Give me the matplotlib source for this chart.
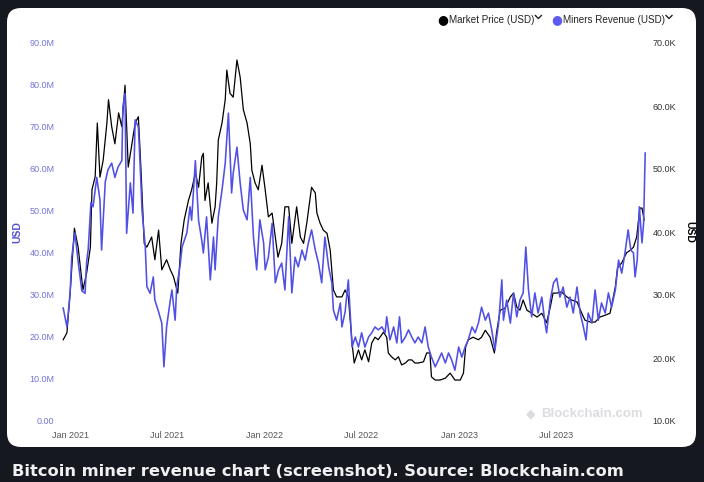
import numpy as np
import matplotlib
matplotlib.use('Agg')
from matplotlib import pyplot as plt
from matplotlib.patches import FancyBboxPatch
from matplotlib.lines import Line2D
from matplotlib.transforms import IdentityTransform

# days counted from 2021-01-01
price_days = [-13, -6, 0, 8, 15, 24, 31, 38, 41, 47, 51, 56, 62, 69, 72, 78, 84, 91, 97,
              103, 109, 116, 122, 128, 133, 139, 144, 153, 159, 166, 172, 181, 188, 194,
              202, 208, 214, 222, 228, 235, 241, 247, 250, 253, 259, 266, 272, 275, 278,
              285, 291, 294, 300, 306, 313, 319, 325, 332, 338, 341, 347, 353, 360, 366,
              372, 379, 385, 390, 397, 403, 410, 416, 425, 432, 438, 444, 453, 460, 463,
              469, 475, 482, 488, 494, 500, 510, 516, 522, 529, 533, 541, 547, 553, 560,
              566, 572, 578, 588, 594, 597, 603, 610, 616, 622, 629, 635, 641, 647, 653,
              663, 669, 675, 678, 685, 694, 704, 713, 722, 732, 738, 742, 747, 756, 766,
              772, 779, 788, 796, 800, 807, 816, 826, 832, 838, 844, 850, 857, 866, 876,
              885, 894, 901, 906, 913, 922, 932, 941, 951, 960, 966, 976, 985, 994, 1004,
              1013, 1023, 1027, 1035, 1044, 1051, 1057, 1063, 1069, 1073, 1077]
price_k = [22.9, 24.0, 30.3, 40.6, 37.6, 30.8, 33.5, 37.6, 46.7, 48.8, 57.3, 48.7, 51.4,
           57.3, 61.0, 56.7, 54.0, 58.9, 56.7, 63.3, 50.3, 54.0, 57.3, 58.3, 49.8, 38.2,
           37.6, 39.2, 35.6, 40.3, 34.0, 35.6, 34.0, 32.9, 30.3, 38.2, 41.9, 45.0, 46.7,
           49.4, 47.1, 51.9, 52.5, 45.0, 47.8, 41.4, 44.0, 47.8, 54.6, 57.3, 61.0, 65.7,
           62.0, 61.4, 67.3, 64.6, 59.4, 57.3, 54.0, 49.8, 47.8, 46.7, 50.6, 46.7, 42.4,
           43.0, 39.2, 36.0, 38.2, 44.0, 44.0, 38.2, 44.0, 39.2, 38.2, 41.4, 47.1, 46.2,
           43.0, 41.4, 40.3, 39.8, 37.1, 30.8, 29.7, 29.7, 30.8, 29.7, 22.4, 19.2, 21.3,
           19.7, 21.3, 19.4, 22.4, 23.3, 22.9, 24.1, 23.3, 20.8, 20.2, 19.7, 20.2, 18.9,
           19.2, 19.7, 19.7, 19.2, 19.2, 19.4, 20.8, 20.8, 17.0, 16.5, 16.5, 16.8, 17.6,
           16.5, 16.5, 17.6, 21.7, 22.9, 23.3, 22.9, 23.3, 24.4, 23.3, 20.8, 24.0, 27.6,
           27.9, 29.7, 30.3, 28.1, 27.6, 29.2, 27.6, 27.1, 26.5, 27.1, 25.6, 28.1, 30.3,
           30.3, 30.5, 29.7, 29.2, 28.9, 27.1, 26.0, 25.7, 25.7, 26.5, 26.8, 27.1, 31.3,
           34.3, 35.1, 36.7, 37.1, 37.6, 39.2, 43.8, 43.8, 41.9]

revenue_days = [-13, -6, 0, 3, 9, 15, 22, 28, 31, 34, 39, 43, 50, 56, 59, 66, 71, 78, 84,
                90, 97, 99, 103, 106, 113, 118, 122, 128, 131, 135, 141, 144, 150, 156,
                159, 165, 172, 176, 181, 188, 191, 197, 200, 206, 210, 219, 225, 228, 235,
                241, 247, 250, 256, 263, 269, 272, 278, 285, 291, 297, 303, 306, 313, 319,
                325, 332, 338, 344, 350, 356, 363, 366, 372, 379, 385, 391, 397, 403, 410,
                416, 422, 428, 435, 441, 447, 453, 460, 466, 472, 478, 485, 491, 494, 500,
                507, 510, 516, 522, 529, 535, 541, 547, 553, 560, 566, 572, 578, 585, 591,
                594, 600, 607, 613, 618, 622, 629, 635, 641, 647, 653, 660, 666, 672, 678,
                685, 691, 697, 704, 710, 716, 722, 729, 735, 741, 747, 754, 760, 766, 772,
                779, 785, 791, 797, 804, 810, 813, 819, 826, 832, 838, 844, 850, 855, 860,
                866, 872, 878, 885, 891, 894, 901, 907, 913, 919, 925, 932, 938, 944, 951,
                957, 963, 968, 972, 979, 985, 991, 997, 1004, 1010, 1016, 1023, 1029, 1035,
                1041, 1047, 1052, 1057, 1060, 1064, 1068, 1073, 1076, 1079]
revenue_m = [26.9, 22.4, 30.5, 39.0, 44.8, 38.0, 31.0, 30.4, 38.0, 41.0, 52.0, 51.0, 58.0,
             52.6, 40.7, 57.0, 59.8, 61.4, 58.0, 60.5, 62.0, 74.8, 78.0, 44.7, 56.7, 49.5,
             71.7, 70.0, 62.0, 50.0, 41.5, 32.0, 30.4, 34.3, 28.8, 26.4, 23.3, 12.9, 22.4,
             28.8, 31.2, 24.0, 32.0, 36.7, 41.4, 44.8, 51.0, 47.8, 62.0, 47.8, 43.0, 40.0,
             48.6, 33.6, 43.8, 36.0, 48.6, 55.0, 61.4, 73.3, 54.3, 59.0, 65.2, 56.7, 50.2,
             47.9, 58.0, 43.8, 36.0, 47.9, 42.4, 36.0, 39.0, 47.1, 32.9, 36.0, 37.6, 31.2,
             48.6, 30.5, 39.0, 36.7, 40.7, 38.3, 42.4, 45.5, 40.7, 37.6, 32.9, 43.8, 36.7,
             32.9, 26.4, 24.0, 28.1, 22.4, 26.0, 33.6, 17.6, 20.0, 17.6, 21.0, 17.6, 20.0,
             21.0, 22.4, 21.7, 22.4, 21.0, 24.8, 19.3, 22.4, 18.6, 24.8, 18.6, 20.0, 21.7,
             20.0, 18.6, 20.0, 18.6, 22.4, 17.6, 15.2, 12.9, 14.5, 16.2, 13.8, 16.2, 14.5,
             12.1, 17.6, 15.2, 17.6, 19.3, 22.4, 21.0, 23.3, 27.1, 24.0, 25.7, 21.7, 16.9,
             23.3, 33.6, 24.0, 28.8, 23.3, 30.5, 24.8, 28.8, 30.5, 41.4, 31.2, 24.8, 30.5,
             25.7, 29.5, 23.3, 21.0, 28.8, 32.9, 34.0, 29.5, 31.9, 27.1, 29.5, 25.7, 31.9,
             25.7, 22.4, 19.3, 25.7, 23.3, 31.2, 24.0, 28.1, 25.7, 30.5, 27.1, 31.2, 38.3,
             35.2, 40.0, 45.5, 40.7, 40.0, 34.3, 38.3, 51.0, 42.4, 47.1, 63.8]

left_ticks = [0, 10, 20, 30, 40, 50, 60, 70, 80, 90]
left_labels = ['0.00', '10.0M', '20.0M', '30.0M', '40.0M', '50.0M', '60.0M', '70.0M',
               '80.0M', '90.0M']
right_ticks = [10, 20, 30, 40, 50, 60, 70]
right_labels = ['10.0K', '20.0K', '30.0K', '40.0K', '50.0K', '60.0K', '70.0K']
x_ticks = ['2021-01-01', '2021-07-01', '2022-01-01', '2022-07-01', '2023-01-01', '2023-07-01']
x_labels = ['Jan 2021', 'Jul 2021', 'Jan 2022', 'Jul 2022', 'Jan 2023', 'Jul 2023']

BG = '#16181f'
BLUE = '#5050e6'
W, H = 704, 482

base = np.datetime64('2021-01-01')
p_dates = base + np.array(price_days).astype('timedelta64[D]')
r_dates = base + np.array(revenue_days).astype('timedelta64[D]')

plt.rcParams['font.family'] = ['Liberation Sans', 'DejaVu Sans']

fig = plt.figure(figsize=(W / 100, H / 100), dpi=100, facecolor=BG)

# white card, behind the axes
card = FancyBboxPatch((7, 35), 689, 439, boxstyle='round,pad=0,rounding_size=14',
                      transform=IdentityTransform(), facecolor='white', edgecolor='none',
                      zorder=-5)
fig.patches.append(card)

ax = fig.add_axes([60 / W, (H - 421) / H, 590 / W, 378 / H])
ax2 = ax.twinx()
ax.set_zorder(ax2.get_zorder() + 1)
ax.patch.set_visible(False)
ax2.patch.set_visible(False)

ax2.plot(p_dates, price_k, color='black', lw=0.9)
ax.plot(r_dates, revenue_m, color=BLUE, lw=1.15)

ax.set_ylim(0, 90)
ax2.set_ylim(10, 70)
x0 = base - np.timedelta64(19, 'D')
x1 = base + np.timedelta64(1088, 'D')
ax.set_xlim(x0, x1)

ax.set_yticks(left_ticks)
ax.set_yticklabels(left_labels)
ax2.set_yticks(right_ticks)
ax2.set_yticklabels(right_labels)
ax.set_xticks([np.datetime64(d) for d in x_ticks])
ax.set_xticklabels(x_labels)

for a in (ax, ax2):
    for s in a.spines.values():
        s.set_visible(False)
ax.tick_params(axis='y', length=0, pad=4, labelsize=6.5, labelcolor='#7373d9')
ax2.tick_params(axis='y', length=0, pad=2, labelsize=6.5, labelcolor='#333333')
ax.tick_params(axis='x', length=0, pad=7, labelsize=6.5, labelcolor='#555555')

fig.text(17 / W, 1 - 232 / H, 'USD', rotation=90, ha='center', va='center',
         fontsize=7.5, fontweight='bold', color='#5252d6')
fig.text(689 / W, 1 - 232 / H, 'USD', rotation=-90, ha='center', va='center',
         fontsize=7.5, fontweight='bold', color='black')


def legend_item(x, label, dot_color):
    fig.text((x - 6) / W, 1 - 20 / H, '\u25cf', ha='center', va='center', fontsize=9,
             color=dot_color, family='DejaVu Sans')
    t = fig.text(x / W, 1 - 20 / H, label, ha='left', va='center',
                 fontsize=7.1, color='#222222')
    fig.canvas.draw()
    xc = t.get_window_extent().x1 + 4
    yc = H - 17
    # small down arrow after the entry
    fig.add_artist(Line2D([xc - 3, xc, xc + 3], [yc + 1.5, yc - 1.5, yc + 1.5],
                          transform=IdentityTransform(), color='#222222', lw=1.0))


legend_item(449, 'Market Price (USD)', 'black')
legend_item(563, 'Miners Revenue (USD)', '#5b5bf0')

# watermark
fig.text(531 / W, 1 - 414 / H, '\u25c6', ha='center', va='center', fontsize=9,
         color='#dcdce0', family='DejaVu Sans')
fig.text(541 / W, 1 - 414 / H, 'Blockchain.com', ha='left', va='center',
         fontsize=9.5, fontweight='bold', color='#dcdce0')

# caption
fig.text(12 / W, 1 - 471 / H,
         'Bitcoin miner revenue chart (screenshot). Source: Blockchain.com',
         ha='left', va='center', fontsize=11.7, fontweight='semibold',
         color='#f0f0f2', family='DejaVu Sans')

fig.savefig('out.png', dpi=100, facecolor=BG)
